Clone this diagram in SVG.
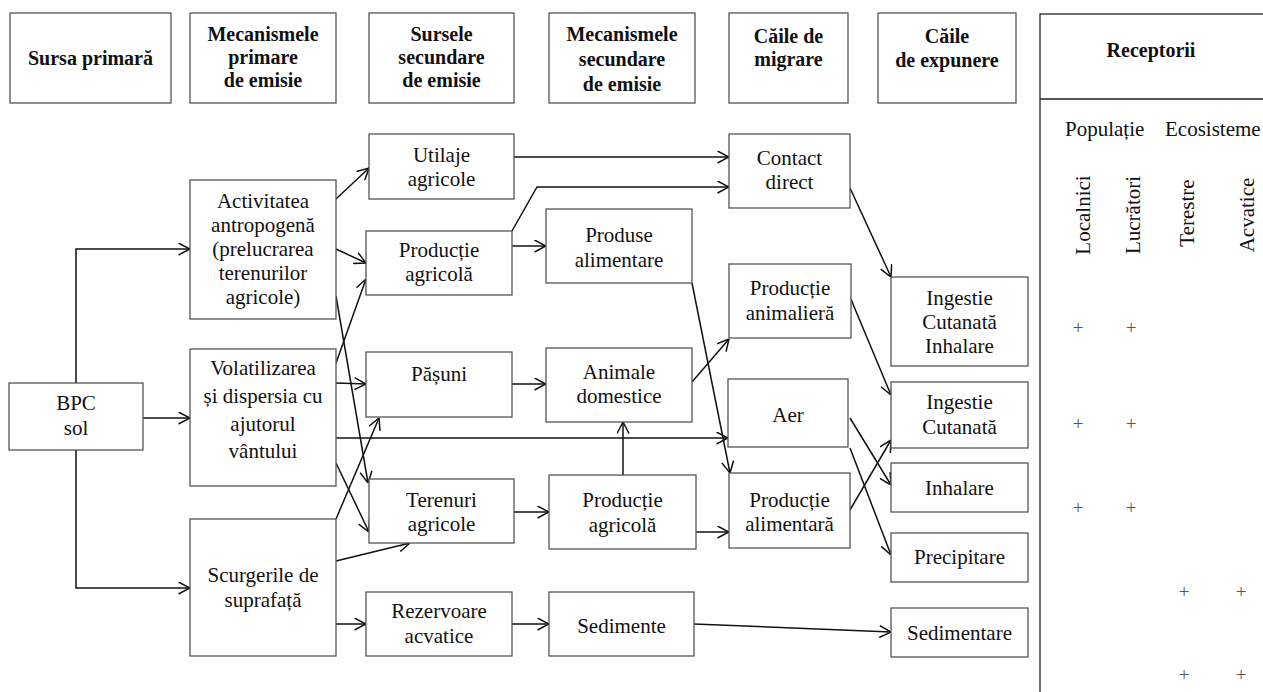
<svg xmlns="http://www.w3.org/2000/svg" width="1263" height="692" viewBox="0 0 1263 692">
<style>
.box{fill:#fff;stroke:#555;stroke-width:1.3}
.t{font-family:"Liberation Serif","Times New Roman",serif;font-size:21px;text-anchor:middle;fill:#111}
.h{font-weight:bold;font-size:20px}
.c{fill:none;stroke:#111;stroke-width:1.5}
.p{font-family:"Liberation Serif","Times New Roman",serif;font-size:19px;text-anchor:middle;fill:#555}
</style>
<defs>
<marker id="a" viewBox="0 0 12 13" markerWidth="12" markerHeight="13" refX="12" refY="6.5" orient="auto" markerUnits="userSpaceOnUse">
<path d="M0.5,0.5 L12,6.5 L0.5,12.5" fill="none" stroke="#111" stroke-width="1.5"/>
</marker>
</defs>
<rect width="1263" height="692" fill="#fff"/>

<g id="headers">
<g id="h1"><rect class="box" x="10" y="13" width="161" height="90"/><text class="t h" x="90.5" y="65">Sursa primară</text></g>
<g id="h2"><rect class="box" x="190" y="13" width="146" height="90"/><text class="t h" x="263" y="41">Mecanismele</text><text class="t h" x="263" y="64">primare</text><text class="t h" x="263" y="87">de emisie</text></g>
<g id="h3"><rect class="box" x="369" y="13" width="145" height="90"/><text class="t h" x="441.5" y="41">Sursele</text><text class="t h" x="441.5" y="64">secundare</text><text class="t h" x="441.5" y="87">de emisie</text></g>
<g id="h4"><rect class="box" x="549" y="13" width="146" height="90"/><text class="t h" x="622" y="41">Mecanismele</text><text class="t h" x="622" y="66">secundare</text><text class="t h" x="622" y="91">de emisie</text></g>
<g id="h5"><rect class="box" x="729" y="13" width="119" height="90"/><text class="t h" x="788.5" y="43">Căile de</text><text class="t h" x="788.5" y="66">migrare</text></g>
<g id="h6"><rect class="box" x="878" y="13" width="138" height="90"/><text class="t h" x="947" y="43">Căile</text><text class="t h" x="947" y="67">de expunere</text></g>
<g id="receptorii">
<rect x="1040" y="14" width="240" height="700" fill="none" stroke="#222" stroke-width="1.3"/>
<line x1="1040" y1="99" x2="1263" y2="99" stroke="#222" stroke-width="1.3"/>
<text class="t h" x="1151" y="57">Receptorii</text>
<text class="t" x="1065" y="136" style="text-anchor:start">Populație</text>
<text class="t" x="1165" y="136" style="text-anchor:start">Ecosisteme</text>
<text class="t" transform="translate(1090,215) rotate(-90)">Localnici</text>
<text class="t" transform="translate(1140,215) rotate(-90)">Lucrători</text>
<text class="t" transform="translate(1194,213) rotate(-90)">Terestre</text>
<text class="t" transform="translate(1254,215) rotate(-90)">Acvatice</text>
<text class="p" x="1078" y="334">+</text><text class="p" x="1131" y="334">+</text>
<text class="p" x="1078" y="430">+</text><text class="p" x="1131" y="430">+</text>
<text class="p" x="1078" y="514">+</text><text class="p" x="1131" y="514">+</text>
<text class="p" x="1184" y="598">+</text><text class="p" x="1241" y="598">+</text>
<text class="p" x="1184" y="681">+</text><text class="p" x="1241" y="681">+</text>
</g>
</g>

<g id="connectors">
<path class="c" marker-end="url(#a)" d="M76,383 V249 H190"/>
<path class="c" marker-end="url(#a)" d="M143,418 H190"/>
<path class="c" marker-end="url(#a)" d="M76,450 V588 H190"/>
<path class="c" marker-end="url(#a)" d="M336,199 L369,168"/>
<path class="c" marker-end="url(#a)" d="M336,249 L366,263"/>
<path class="c" marker-end="url(#a)" d="M336,296 L368,483"/>
<path class="c" marker-end="url(#a)" d="M336,363 L366,279"/>
<path class="c" marker-end="url(#a)" d="M336,383 L366,384"/>
<path class="c" marker-end="url(#a)" d="M336,438 H728"/>
<path class="c" marker-end="url(#a)" d="M336,463 L369,532"/>
<path class="c" marker-end="url(#a)" d="M336,519 L379,418"/>
<path class="c" marker-end="url(#a)" d="M336,561 L410,543"/>
<path class="c" marker-end="url(#a)" d="M336,624 H366"/>
<path class="c" marker-end="url(#a)" d="M514,157 H729"/>
<path class="c" marker-end="url(#a)" d="M512,231 L537,187 H729"/>
<path class="c" marker-end="url(#a)" d="M512,246 H546"/>
<path class="c" marker-end="url(#a)" d="M512,384 H546"/>
<path class="c" marker-end="url(#a)" d="M514,512 H549"/>
<path class="c" marker-end="url(#a)" d="M623,475 V422"/>
<path class="c" marker-end="url(#a)" d="M696,532 H729"/>
<path class="c" marker-end="url(#a)" d="M512,624 H549"/>
<path class="c" marker-end="url(#a)" d="M692,283 L730,473"/>
<path class="c" marker-end="url(#a)" d="M692,382 L729,339"/>
<path class="c" marker-end="url(#a)" d="M694,624 L891,632"/>
<path class="c" marker-end="url(#a)" d="M850,188 L891,277"/>
<path class="c" marker-end="url(#a)" d="M850,297 L891,395"/>
<path class="c" marker-end="url(#a)" d="M850,418 L891,485"/>
<path class="c" marker-end="url(#a)" d="M850,448 L891,555"/>
<path class="c" marker-end="url(#a)" d="M850,510 L891,440"/>
</g>

<g id="n-bpc"><rect class="box" x="9" y="383" width="134" height="67"/><text class="t" x="76" y="410">BPC</text><text class="t" x="76" y="435">sol</text></g>
<g id="n-activ"><rect class="box" x="190" y="180" width="146" height="139"/><text class="t" x="263" y="208">Activitatea</text><text class="t" x="263" y="232">antropogenă</text><text class="t" x="263" y="256">(prelucrarea</text><text class="t" x="263" y="280">terenurilor</text><text class="t" x="263" y="304">agricole)</text></g>
<g id="n-volat"><rect class="box" x="190" y="349" width="146" height="137"/><text class="t" x="263" y="375">Volatilizarea</text><text class="t" x="263" y="403">și dispersia cu</text><text class="t" x="263" y="431">ajutorul</text><text class="t" x="263" y="458">vântului</text></g>
<g id="n-scurg"><rect class="box" x="190" y="519" width="146" height="137"/><text class="t" x="263" y="582">Scurgerile de</text><text class="t" x="263" y="607">suprafață</text></g>
<g id="n-utilaje"><rect class="box" x="369" y="134" width="145" height="65"/><text class="t" x="441.5" y="162">Utilaje</text><text class="t" x="441.5" y="186">agricole</text></g>
<g id="n-prodagr1"><rect class="box" x="366" y="231" width="146" height="64"/><text class="t" x="439" y="257">Producție</text><text class="t" x="439" y="281">agricolă</text></g>
<g id="n-pasuni"><rect class="box" x="366" y="352" width="146" height="65"/><text class="t" x="439" y="381">Pășuni</text></g>
<g id="n-terenuri"><rect class="box" x="369" y="479" width="145" height="64"/><text class="t" x="441.5" y="507">Terenuri</text><text class="t" x="441.5" y="531">agricole</text></g>
<g id="n-rezervoare"><rect class="box" x="366" y="592" width="146" height="64"/><text class="t" x="439" y="618">Rezervoare</text><text class="t" x="439" y="643">acvatice</text></g>
<g id="n-produse"><rect class="box" x="546" y="209" width="146" height="74"/><text class="t" x="619" y="242">Produse</text><text class="t" x="619" y="267">alimentare</text></g>
<g id="n-animale"><rect class="box" x="546" y="348" width="146" height="74"/><text class="t" x="619" y="379">Animale</text><text class="t" x="619" y="403">domestice</text></g>
<g id="n-prodagr2"><rect class="box" x="549" y="475" width="147" height="74"/><text class="t" x="622.5" y="507">Producție</text><text class="t" x="622.5" y="532">agricolă</text></g>
<g id="n-sedimente"><rect class="box" x="549" y="592" width="145" height="64"/><text class="t" x="621.5" y="633">Sedimente</text></g>
<g id="n-contact"><rect class="box" x="729" y="134" width="121" height="74"/><text class="t" x="789.5" y="165">Contact</text><text class="t" x="789.5" y="189">direct</text></g>
<g id="n-prodanim"><rect class="box" x="729" y="264" width="122" height="74"/><text class="t" x="790" y="295">Producție</text><text class="t" x="790" y="320">animalieră</text></g>
<g id="n-aer"><rect class="box" x="728" y="379" width="120" height="68"/><text class="t" x="788" y="422">Aer</text></g>
<g id="n-prodalim"><rect class="box" x="729" y="473" width="121" height="75"/><text class="t" x="789.5" y="507">Producție</text><text class="t" x="789.5" y="531">alimentară</text></g>
<g id="n-ici"><rect class="box" x="891" y="277" width="137" height="89"/><text class="t" x="959.5" y="305">Ingestie</text><text class="t" x="959.5" y="329">Cutanată</text><text class="t" x="959.5" y="353">Inhalare</text></g>
<g id="n-ic"><rect class="box" x="891" y="382" width="137" height="66"/><text class="t" x="959.5" y="409">Ingestie</text><text class="t" x="959.5" y="434">Cutanată</text></g>
<g id="n-inhalare"><rect class="box" x="891" y="463" width="137" height="49"/><text class="t" x="959.5" y="495">Inhalare</text></g>
<g id="n-precipitare"><rect class="box" x="891" y="533" width="137" height="49"/><text class="t" x="959.5" y="564">Precipitare</text></g>
<g id="n-sedimentare"><rect class="box" x="891" y="608" width="137" height="49"/><text class="t" x="959.5" y="640">Sedimentare</text></g>
</svg>
